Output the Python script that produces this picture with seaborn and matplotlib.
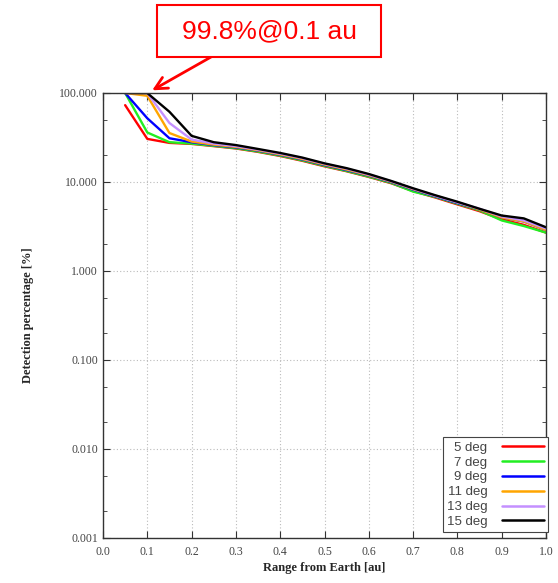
"""
Detection percentage vs range from Earth, per elongation threshold
"""
import matplotlib
matplotlib.use("Agg")
import matplotlib.pyplot as plt
import matplotlib.ticker as mticker
from matplotlib.patches import Rectangle
import seaborn as sns
import pandas as pd

# range sample points [au]
range_au = [0.05, 0.10, 0.15, 0.20, 0.25, 0.30, 0.35, 0.40, 0.45, 0.50,
            0.55, 0.60, 0.65, 0.70, 0.75, 0.80, 0.85, 0.90, 0.95, 1.00]

series_labels = ["5 deg", "7 deg", "9 deg", "11 deg", "13 deg", "15 deg"]
series_colors = ["#ff0000", "#22ee22", "#0000ff", "#ffa500", "#c490ff", "#000000"]

det_5 = [73.0, 30.5, 27.5, 26.8, 25.3, 23.8, 21.8, 19.6, 17.3, 15.0,
         13.2, 11.4, 9.7, 7.9, 6.7, 5.6, 4.7, 3.8, 3.3, 2.7]
det_7 = [100.0, 36.0, 28.0, 27.0, 25.5, 24.0, 22.0, 19.8, 17.5, 15.2,
         13.3, 11.5, 9.8, 7.8, 6.8, 5.7, 4.8, 3.7, 3.2, 2.7]
det_9 = [100.0, 52.0, 31.0, 28.0, 26.0, 24.5, 22.5, 20.2, 17.9, 15.5,
         13.6, 11.8, 10.0, 8.2, 6.9, 5.8, 4.9, 4.0, 3.6, 2.9]
det_11 = [100.0, 93.0, 35.5, 28.5, 26.3, 24.8, 22.7, 20.4, 18.1, 15.7,
          13.8, 11.9, 10.1, 8.3, 7.0, 5.9, 4.9, 4.0, 3.6, 2.9]
det_13 = [100.0, 99.8, 46.0, 30.0, 27.0, 25.3, 23.1, 20.8, 18.5, 16.0,
          14.1, 12.1, 10.2, 8.4, 7.0, 5.9, 5.0, 4.1, 3.7, 3.0]
det_15 = [100.0, 99.8, 61.5, 33.0, 28.0, 26.0, 23.5, 21.2, 18.8, 16.2,
          14.3, 12.3, 10.3, 8.5, 7.1, 6.0, 5.0, 4.2, 3.9, 3.1]

ytick_values = [0.001, 0.01, 0.1, 1, 10, 100]
xtick_values = [0.0, 0.1, 0.2, 0.3, 0.4, 0.5, 0.6, 0.7, 0.8, 0.9, 1.0]

all_series = [det_5, det_7, det_9, det_11, det_13, det_15]
frames = []
for label, vals in zip(series_labels, all_series):
    frames.append(pd.DataFrame({"range": range_au, "detection": vals, "threshold": label}))
df = pd.concat(frames, ignore_index=True)

sns.set_style("ticks")
plt.rcParams["font.family"] = ["Liberation Serif", "DejaVu Serif"]

W, H = 558, 583
fig = plt.figure(figsize=(W / 100, H / 100), dpi=100)
ax = fig.add_axes([103 / W, 1 - 538 / H, 443 / W, 445 / H])

sns.lineplot(data=df, x="range", y="detection", hue="threshold",
             palette=dict(zip(series_labels, series_colors)),
             hue_order=series_labels, linewidth=1.7, ax=ax, legend=True)

ax.set_yscale("log")
ax.set_xlim(0.0, 1.0)
ax.set_ylim(0.001, 100)
ax.set_xticks(xtick_values)
ax.xaxis.set_major_formatter(mticker.FormatStrFormatter("%.1f"))
ax.set_yticks(ytick_values)
ax.yaxis.set_major_formatter(mticker.FormatStrFormatter("%.3f"))
ax.yaxis.set_minor_locator(mticker.LogLocator(base=10, subs=(2.0, 5.0)))
ax.yaxis.set_minor_formatter(mticker.NullFormatter())

ax.tick_params(which="both", direction="in", top=True, right=True,
               labelsize=8.5, colors="#333333", labelcolor="#444444")
ax.tick_params(which="major", length=5)
ax.tick_params(which="minor", length=3)
ax.tick_params(axis="x", pad=6)
for sp in ax.spines.values():
    sp.set_color("#333333")
    sp.set_linewidth(1.0)

ax.grid(True, which="major", linestyle=(0, (1, 2)), color="#bbbbbb", linewidth=0.8)

ax.set_xlabel("Range from Earth [au]", fontsize=9, fontweight="bold", labelpad=3)
ax.set_ylabel("Detection percentage [%]", fontsize=9, fontweight="bold", labelpad=18)

handles, labels = ax.get_legend_handles_labels()
leg = ax.legend(handles, labels, loc="lower right",
                bbox_to_anchor=((548 - 103) / 443, (538 - 532) / 445),
                borderaxespad=0, markerfirst=False, frameon=True,
                fancybox=False, framealpha=1, edgecolor="#444444",
                handlelength=3.2, handletextpad=1.1, labelspacing=0.2,
                borderpad=0.3, prop={"family": "Liberation Sans", "size": 9.5})
leg.get_frame().set_linewidth(0.8)
for t in leg.get_texts():
    t.set_ha("right")
    t.set_color("#444444")
leg._legend_box.align = "right"
for h in leg.legend_handles:
    h.set_linewidth(1.8)

# callout box with arrow to 0.1 au
fig.patches.append(Rectangle((157 / W, 1 - 57 / H), 224 / W, 52 / H,
                             transform=fig.transFigure, facecolor="white",
                             edgecolor="red", linewidth=1.5))
fig.text(269 / W, 1 - 31 / H, "99.8%@0.1 au", ha="center", va="center",
         color="red", fontsize=19, family="Liberation Sans")
ax.annotate("", xy=(0.1, 99.8), xycoords="data",
            xytext=(211, H - 57), textcoords="figure pixels",
            arrowprops=dict(arrowstyle="->", color="red", lw=2,
                            shrinkA=0, shrinkB=4, mutation_scale=22),
            annotation_clip=False)

fig.savefig("out.png", dpi=100)
